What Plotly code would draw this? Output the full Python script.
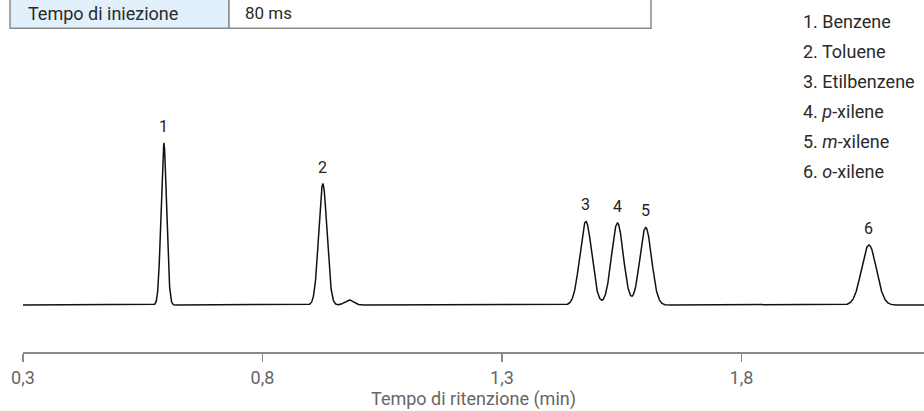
import plotly.graph_objects as go
import numpy as np

# ---- data ----
peak_labels = ["1", "2", "3", "4", "5", "6"]
peak_times = [0.594, 0.926, 1.475, 1.541, 1.600, 2.066]          # min
peak_heights = [161.5, 121, 83.5, 82, 77.5, 60]                  # a.u.
peak_sigmas = [0.0058, 0.0086, 0.0125, 0.0123, 0.0122, 0.0154]   # min
minor_times = [0.981]
minor_heights = [5]
minor_sigmas = [0.009]
compound_names = ["1. Benzene", "2. Toluene", "3. Etilbenzene",
                  "4. <i>p</i>-xilene", "5. <i>m</i>-xilene", "6. <i>o</i>-xilene"]
tick_vals = [0.3, 0.8, 1.3, 1.8]
table_label = "Tempo di iniezione"
table_value = "80 ms"

# ---- build the chromatogram trace from the peak table ----
t = np.linspace(0.3, 2.2, 5000)
signal = np.zeros_like(t)
for tr, h, s in zip(peak_times + minor_times, peak_heights + minor_heights,
                    peak_sigmas + minor_sigmas):
    signal += h * np.exp(-0.5 * ((t - tr) / s) ** 2)

FONT = "Roboto"
W, H = 924, 411
ML, MR, MT, MB = 23, 0, 0, 59
pw, ph = W - ML - MR, H - MT - MB


def px(x):
    return (x - ML) / pw


def py(y):
    return 1 - (y - MT) / ph


fig = go.Figure()
fig.add_trace(go.Scatter(x=t, y=signal, mode="lines",
                         line=dict(color="#111111", width=1.5),
                         hoverinfo="skip", showlegend=False))

# peak number labels
for lab, tr, h in zip(peak_labels, peak_times, peak_heights):
    fig.add_annotation(x=tr, y=h, text=lab, showarrow=False, yshift=17,
                       font=dict(family=FONT, size=16, color="#222222"))

# compound list
for i, name in enumerate(compound_names):
    fig.add_annotation(xref="paper", yref="paper", x=px(801), y=py(21.7 + i * 30),
                       text=name, showarrow=False, xanchor="left", yanchor="middle",
                       font=dict(family=FONT, size=18, color="#2a2a2a"))

# table row at the top
fig.add_shape(type="rect", xref="paper", yref="paper",
              x0=px(10), x1=px(229), y0=py(-10), y1=py(28.3),
              fillcolor="#e1f0fa", line=dict(color="#8a8a8a", width=1.5), layer="below")
fig.add_shape(type="rect", xref="paper", yref="paper",
              x0=px(229), x1=px(651), y0=py(-10), y1=py(28.3),
              fillcolor="white", line=dict(color="#8a8a8a", width=1.5), layer="below")
fig.add_annotation(xref="paper", yref="paper", x=px(26), y=py(13.3), text=table_label,
                   showarrow=False, xanchor="left", yanchor="middle",
                   font=dict(family=FONT, size=18, color="#2a2a2a"))
fig.add_annotation(xref="paper", yref="paper", x=px(243), y=py(13.3), text=table_value,
                   showarrow=False, xanchor="left", yanchor="middle",
                   font=dict(family=FONT, size=17, color="#2a2a2a"))

fig.update_layout(
    width=W, height=H, margin=dict(l=ML, r=MR, t=MT, b=MB),
    paper_bgcolor="white", plot_bgcolor="white",
    separators=", ",
    xaxis=dict(range=[0.3, 0.3 + pw / 479.0], tickvals=tick_vals,
               tickformat=".1f", showgrid=False, zeroline=False,
               showline=True, linecolor="#8a8a8a", linewidth=1.5,
               ticks="outside", ticklen=8, tickcolor="#8a8a8a", tickwidth=1.5,
               ticklabelstandoff=1,
               tickfont=dict(family=FONT, size=18, color="#666666"),
               title=dict(text="Tempo di ritenzione (min)", standoff=2,
                          font=dict(family=FONT, size=18, color="#666666"))),
    yaxis=dict(range=[-47, 305], visible=False),
)

fig.write_html("out.html", config={"displayModeBar": False, "staticPlot": True},
               post_script="document.body.style.margin='0px';"
                           "document.body.style.overflow='hidden';")
